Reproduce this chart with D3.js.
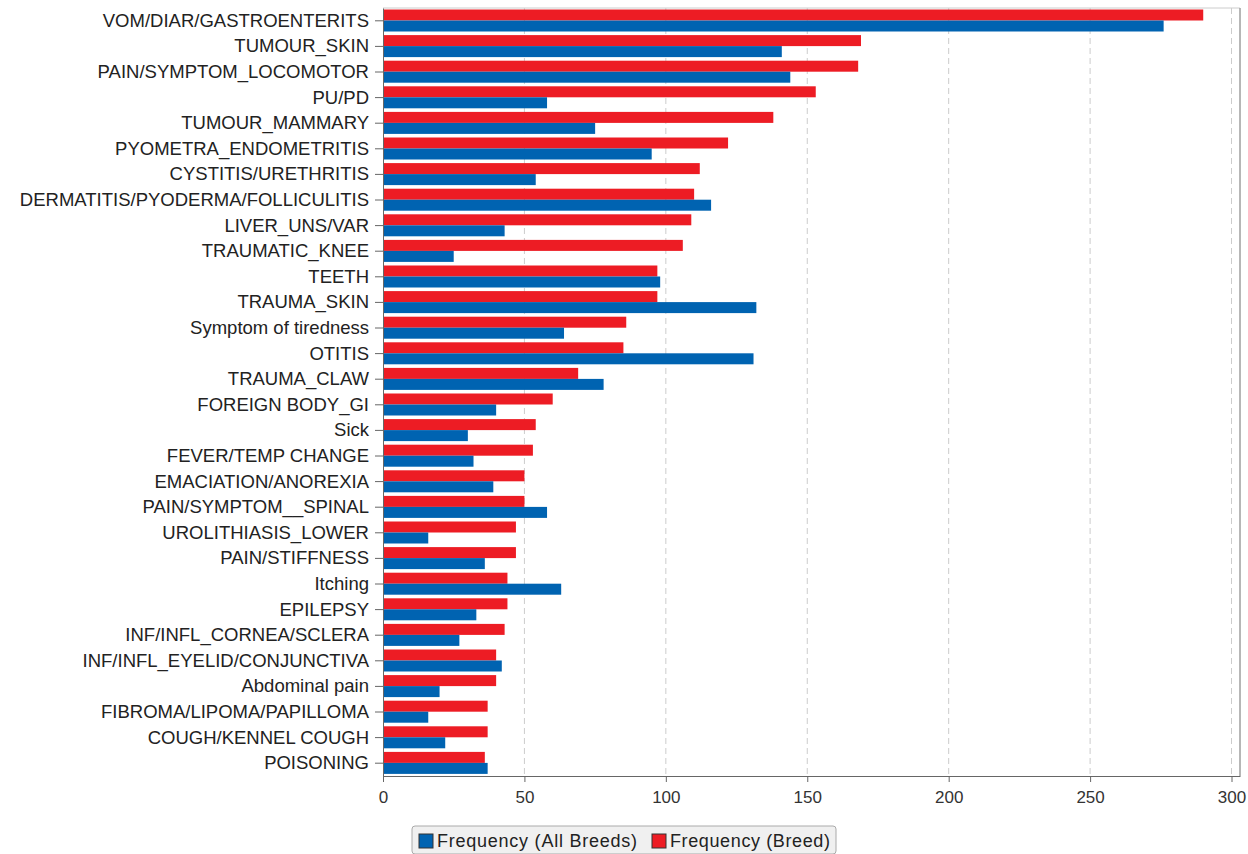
<!DOCTYPE html>
<html><head><meta charset="utf-8">
<script src="https://cdn.jsdelivr.net/npm/d3@7"></script>
<style>body{margin:0;background:#fff;font-family:Arial,"Liberation Sans",sans-serif}</style>
</head><body><svg id="c" width="1248" height="854"></svg>
<script>
var categories = ["VOM/DIAR/GASTROENTERITS","TUMOUR_SKIN","PAIN/SYMPTOM_LOCOMOTOR","PU/PD","TUMOUR_MAMMARY","PYOMETRA_ENDOMETRITIS","CYSTITIS/URETHRITIS","DERMATITIS/PYODERMA/FOLLICULITIS","LIVER_UNS/VAR","TRAUMATIC_KNEE","TEETH","TRAUMA_SKIN","Symptom of tiredness","OTITIS","TRAUMA_CLAW","FOREIGN BODY_GI","Sick","FEVER/TEMP CHANGE","EMACIATION/ANOREXIA","PAIN/SYMPTOM__SPINAL","UROLITHIASIS_LOWER","PAIN/STIFFNESS","Itching","EPILEPSY","INF/INFL_CORNEA/SCLERA","INF/INFL_EYELID/CONJUNCTIVA","Abdominal pain","FIBROMA/LIPOMA/PAPILLOMA","COUGH/KENNEL COUGH","POISONING"];
var breed = [290,169,168,153,138,122,112,110,109,106,97,97,86,85,69,60,54,53,50,50,47,47,44,44,43,40,40,37,37,36];
var allBreeds = [276,141,144,58,75,95,54,116,43,25,98,132,64,131,78,40,30,32,39,58,16,36,63,33,27,42,20,16,22,37];
var ticks = [0,50,100,150,200,250,300];

var svg = d3.select("#c");
var x = d3.scaleLinear().domain([0,303]).range([383,1240]);
var y = d3.scaleBand().domain(categories).range([8,776]);

svg.append("g").selectAll("line").data(ticks.slice(1)).enter().append("line")
  .attr("x1", d => x(d)).attr("x2", d => x(d)).attr("y1", 8).attr("y2", 776)
  .attr("stroke", "#ccc").attr("stroke-dasharray", "6,4");

var g = svg.append("g").selectAll("g").data(categories).enter().append("g");
g.append("rect").attr("x", x(0)).attr("y", d => y(d) + 1.5)
  .attr("width", (d, i) => x(breed[i]) - x(0)).attr("height", 11).attr("fill", "#ed1c24");
g.append("rect").attr("x", x(0)).attr("y", d => y(d) + 12.5)
  .attr("width", (d, i) => x(allBreeds[i]) - x(0)).attr("height", 11).attr("fill", "#0063b1");

svg.append("path").attr("d", "M383,8H1240V776").attr("fill", "none").attr("stroke", "#ccc");
svg.append("line").attr("x1", 1240).attr("x2", 1240).attr("y1", 8).attr("y2", 776).attr("stroke", "#888");

var xa = svg.append("g").attr("transform", "translate(0,776)")
  .call(d3.axisBottom(x).tickValues(ticks).tickSize(6).tickSizeOuter(0));
xa.selectAll("text").attr("font-size", 17).attr("fill", "#333").attr("font-family", "Arial,'Liberation Sans'").attr("dy", "1.05em");
xa.selectAll("line,path").attr("stroke", "#666");

var ya = svg.append("g").attr("transform", "translate(383,0)")
  .call(d3.axisLeft(y).tickSize(8).tickSizeOuter(0));
ya.selectAll("text").attr("font-size", 18.5).attr("fill", "#222").attr("font-family", "Arial,'Liberation Sans'").attr("x", -14);
ya.selectAll("line,path").attr("stroke", "#666");

var leg = svg.append("g").attr("transform", "translate(412,826)");
leg.append("rect").attr("width", 424).attr("height", 28).attr("rx", 3)
  .attr("fill", "#f0f0f0").attr("stroke", "#aaa");
var items = [["Frequency (All Breeds)", "#0063b1", 7, 200], ["Frequency (Breed)", "#ed1c24", 240, 160]];
items.forEach(function(it) {
  leg.append("rect").attr("x", it[2]).attr("y", 8).attr("width", 14).attr("height", 14)
    .attr("fill", it[1]).attr("stroke", "#333");
  leg.append("text").attr("x", it[2] + 18).attr("y", 21).attr("font-size", 18)
    .attr("textLength", it[3]).attr("fill", "#222").text(it[0]);
});
</script></body></html>
